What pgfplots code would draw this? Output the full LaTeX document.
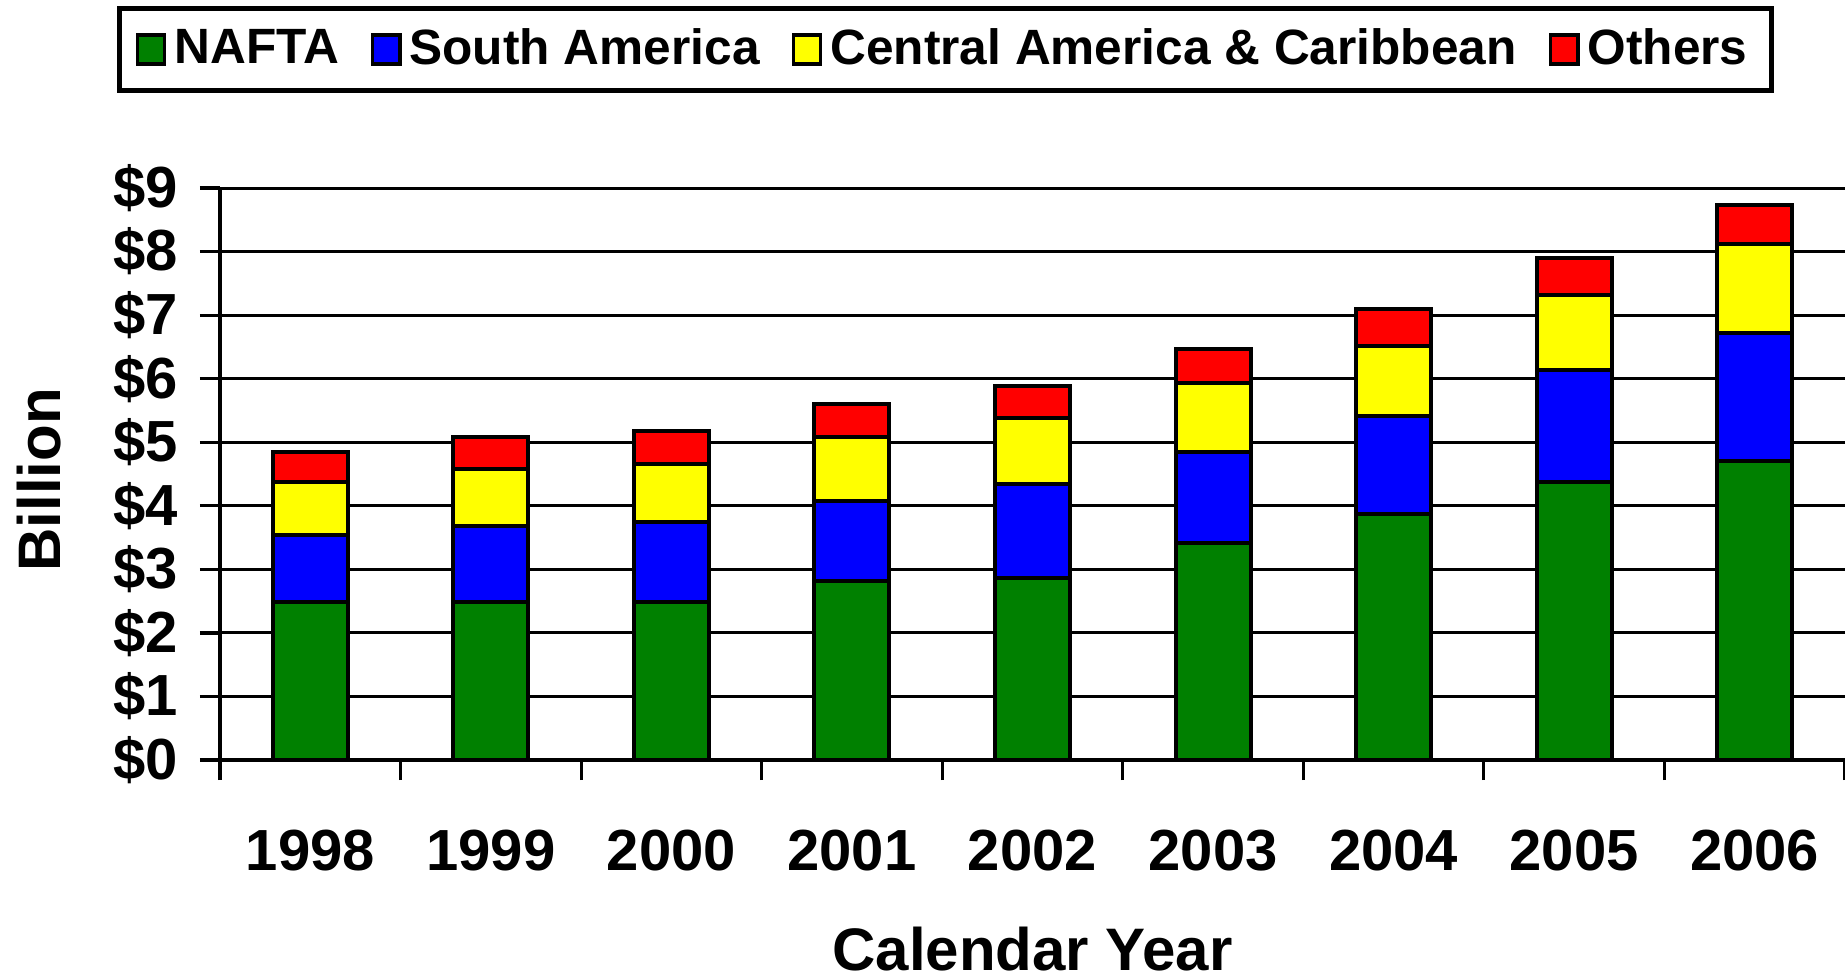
\documentclass[border=0pt]{standalone}
\usepackage{fontspec}
\setmainfont{Liberation Sans}
\usepackage{pgfplots}
\pgfplotsset{compat=1.18}
\definecolor{cnafta}{HTML}{008000}
\definecolor{csouth}{HTML}{0000FF}
\definecolor{ccentral}{HTML}{FFFF00}
\definecolor{cothers}{HTML}{FF0000}

\begin{document}
\begin{tikzpicture}
\useasboundingbox (-55pt,-54.75pt) rectangle (406.25pt,190pt);
\begin{axis}[
    scale only axis,
    width=406.25pt, height=143pt,
    ybar stacked,
    bar width=18.75pt,
    xmin=-0.5, xmax=8.5,
    ymin=0, ymax=9,
    ytick={0,1,...,9},
    yticklabels={\$0,\$1,\$2,\$3,\$4,\$5,\$6,\$7,\$8,\$9},
    xtick={-0.5,0.5,...,8.5},
    xticklabels={,,,,,,,,,},
    extra x ticks={0,1,...,8},
    extra x tick labels={1998,1999,2000,2001,2002,2003,2004,2005,2006},
    extra x tick style={major tick length=0pt, grid=none},
    axis x line*=bottom,
    axis y line*=left,
    axis line style={line width=1pt},
    tick align=outside,
    major tick length=5pt,
    tick style={black, line width=0.8pt},
    ymajorgrids,
    grid style={black, line width=0.75pt},
    tick label style={font=\fontsize{14.5}{16}\selectfont\bfseries},
    xticklabel style={yshift=-14pt},
    yticklabel style={xshift=-2pt},
    xlabel={Calendar Year},
    ylabel={Billion},
    label style={font=\fontsize{15}{17}\selectfont\bfseries},
    xlabel style={at={(axis description cs:0.5,-0.33)}, anchor=center},
    ylabel style={at={(axis description cs:-0.1114,0.49)}, anchor=center},
    legend style={at={(axis description cs:0.4465,1.318)}, anchor=north,
        legend columns=4, draw=black, line width=1.1pt,
        font=\fontsize{12.4}{14}\selectfont\bfseries,
        inner xsep=4pt, inner ysep=3pt,
        /tikz/every even column/.append style={column sep=6pt}},
    every axis plot post/.append style={draw=black, line width=1pt,
        legend image code/.code={\draw[##1, line width=0.9pt] (0pt,-3.6pt) rectangle (6.8pt,3.6pt);}},
  ]
  \addplot[fill=cnafta] coordinates {
    (0,2.49) (1,2.49) (2,2.49) (3,2.82) (4,2.86) (5,3.41) (6,3.87) (7,4.37) (8,4.70)
  };
  \addlegendentry{NAFTA\hspace{10pt}}
  \addplot[fill=csouth] coordinates {
    (0,1.05) (1,1.20) (2,1.25) (3,1.26) (4,1.48) (5,1.43) (6,1.55) (7,1.77) (8,2.02)
  };
  \addlegendentry{South America}
  \addplot[fill=ccentral] coordinates {
    (0,0.83) (1,0.89) (2,0.92) (3,1.01) (4,1.04) (5,1.10) (6,1.09) (7,1.17) (8,1.40)
  };
  \addlegendentry{Central America \& Caribbean}
  \addplot[fill=cothers] coordinates {
    (0,0.47) (1,0.51) (2,0.51) (3,0.51) (4,0.51) (5,0.53) (6,0.59) (7,0.59) (8,0.61)
  };
  \addlegendentry{Others}
\end{axis}
\end{tikzpicture}
\end{document}
